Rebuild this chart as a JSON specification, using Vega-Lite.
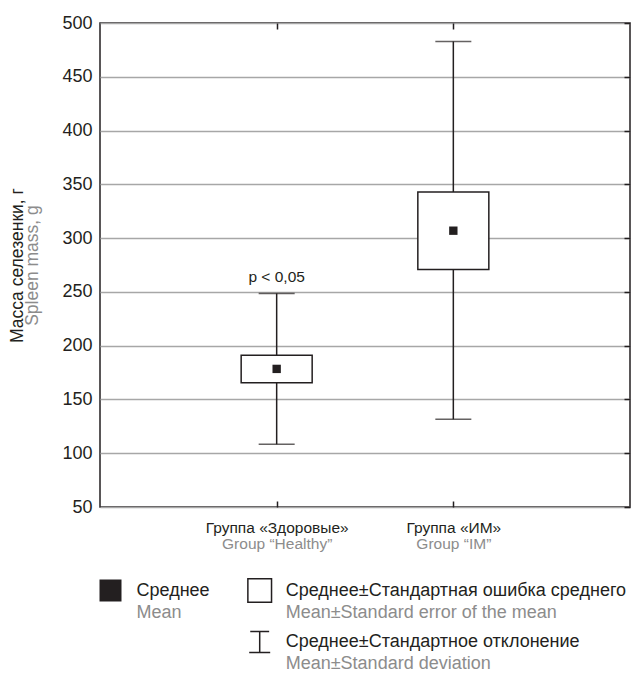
{
  "$schema": "https://vega.github.io/schema/vega-lite/v6.json",
  "padding": {"left": 7, "top": 13, "right": 0, "bottom": 0},
  "background": "white",
  "config": {
    "font": "Liberation Sans",
    "view": {"stroke": "#231f20", "strokeWidth": 1.5},
    "axis": {"labelFont": "Liberation Sans", "titleFont": "Liberation Sans", "titleFontWeight": "normal"}
  },
  "spacing": 17,
  "vconcat": [
    {
      "width": 530,
      "height": 484,
      "data": {
        "values": [
          {"ru": "Группа «Здоровые»", "en": "Group “Healthy”", "mean": 178.4, "se_lo": 165.6, "se_hi": 191.0, "sd_lo": 108.3, "sd_hi": 248.6, "note": "p < 0,05"},
          {"ru": "Группа «ИМ»", "en": "Group “IM”", "mean": 306.9, "se_lo": 270.9, "se_hi": 342.8, "sd_lo": 131.5, "sd_hi": 482.8, "note": ""}
        ]
      },
      "resolve": {"axis": {"x": "independent", "y": "independent"}},
      "layer": [
        {
          "mark": {"type": "rule", "color": "#231f20", "strokeWidth": 1.5},
          "encoding": {
            "x": {"field": "ru", "type": "nominal", "sort": null,
              "scale": {"type": "point", "padding": 1},
              "axis": {"orient": "bottom", "title": null, "labelAngle": 0, "labelFontSize": 15.5, "labelColor": "#231f20",
                "labelPadding": 19.5, "domain": false, "ticks": true, "tickSize": -6, "tickColor": "#231f20", "tickWidth": 1.5, "grid": false}},
            "y": {"field": "sd_lo", "type": "quantitative",
              "scale": {"domain": [50, 500], "nice": false, "zero": false},
              "axis": {"orient": "left", "values": [50, 100, 150, 200, 250, 300, 350, 400, 450, 500],
                "grid": true, "gridColor": "#a7a7a7", "gridWidth": 1.5, "domain": false, "ticks": false,
                "labelFontSize": 18, "labelColor": "#231f20", "labelPadding": 8,
                "title": "Spleen mass, g", "titleColor": "#8c8c8c", "titleFontSize": 17.5, "titlePadding": 20}},
            "y2": {"field": "sd_hi"}
          }
        },
        {
          "mark": {"type": "tick", "color": "#231f20", "thickness": 1.5, "size": 36},
          "encoding": {
            "x": {"field": "ru", "type": "nominal", "sort": null,
              "axis": {"orient": "bottom", "title": null, "labelAngle": 0, "labelFontSize": 15.5, "labelColor": "#8c8c8c",
                "labelExpr": "datum.value == 'Группа «Здоровые»' ? 'Group “Healthy”' : 'Group “IM”'",
                "labelPadding": 29.5, "domain": false, "ticks": false, "grid": false}},
            "y": {"field": "sd_hi", "type": "quantitative",
              "axis": {"orient": "left", "labels": false, "ticks": false, "domain": false, "grid": false,
                "title": "Масса селезенки, г", "titleColor": "#231f20", "titleFontSize": 17.5, "titlePadding": 74}}
          }
        },
        {
          "mark": {"type": "tick", "color": "#231f20", "thickness": 1.5, "size": 36},
          "encoding": {
            "x": {"field": "ru", "type": "nominal", "sort": null, "axis": null},
            "y": {"field": "sd_lo", "type": "quantitative", "axis": null}
          }
        },
        {
          "mark": {"type": "bar", "fill": "white", "stroke": "#231f20", "strokeWidth": 1.5, "width": 71},
          "encoding": {
            "x": {"field": "ru", "type": "nominal", "sort": null,
              "axis": {"orient": "top", "title": null, "labels": false, "domain": false, "grid": false,
                "ticks": true, "tickSize": -6, "tickColor": "#231f20", "tickWidth": 1.5}},
            "y": {"field": "se_lo", "type": "quantitative",
              "axis": {"orient": "right", "title": null, "labels": false, "domain": false, "grid": false,
                "values": [50, 100, 150, 200, 250, 300, 350, 400, 450, 500],
                "ticks": true, "tickSize": -6, "tickColor": "#231f20", "tickWidth": 1.5}},
            "y2": {"field": "se_hi"}
          }
        },
        {
          "mark": {"type": "point", "shape": "square", "filled": true, "color": "#231f20", "size": 70, "opacity": 1},
          "encoding": {
            "x": {"field": "ru", "type": "nominal", "sort": null, "axis": null},
            "y": {"field": "mean", "type": "quantitative", "axis": null}
          }
        },
        {
          "mark": {"type": "text", "color": "#231f20", "fontSize": 15.5, "baseline": "alphabetic", "dy": -11},
          "encoding": {
            "x": {"field": "ru", "type": "nominal", "sort": null, "axis": null},
            "y": {"field": "sd_hi", "type": "quantitative", "axis": null},
            "text": {"field": "note"}
          }
        }
      ]
    },
    {
      "width": 530,
      "height": 92,
      "view": {"stroke": null},
      "data": {
        "values": [
          {"col": 1, "row": 1, "sym": "mean", "ru": "Среднее", "en": "Mean"},
          {"col": 2, "row": 1, "sym": "se", "ru": "Среднее±Стандартная ошибка среднего", "en": "Mean±Standard error of the mean"},
          {"col": 2, "row": 2, "sym": "sd", "ru": "Среднее±Стандартное отклонение", "en": "Mean±Standard deviation"}
        ]
      },
      "layer": [
        {
          "transform": [{"filter": "datum.sym == 'mean'"}],
          "mark": {"type": "point", "shape": "square", "filled": true, "color": "#231f20", "size": 484, "opacity": 1},
          "encoding": {
            "x": {"field": "col", "type": "quantitative", "scale": {"domain": [1, 2], "range": [10.5, 159.7]}, "axis": null},
            "y": {"field": "row", "type": "quantitative", "scale": {"domain": [1, 2], "range": [20.5, 72]}, "axis": null}
          }
        },
        {
          "transform": [{"filter": "datum.sym == 'se'"}],
          "mark": {"type": "point", "shape": "square", "filled": true, "fill": "white", "stroke": "#231f20", "strokeWidth": 1.5, "size": 560, "opacity": 1},
          "encoding": {
            "x": {"field": "col", "type": "quantitative", "axis": null},
            "y": {"field": "row", "type": "quantitative", "axis": null}
          }
        },
        {
          "transform": [{"filter": "datum.sym == 'sd'"}],
          "mark": {"type": "point", "shape": "M-0.9,-1H0.9M0,-1V1M-1,1H1", "filled": false, "stroke": "#231f20", "strokeWidth": 1.5, "size": 441, "opacity": 1},
          "encoding": {
            "x": {"field": "col", "type": "quantitative", "axis": null},
            "y": {"field": "row", "type": "quantitative", "axis": null}
          }
        },
        {
          "mark": {"type": "text", "align": "left", "baseline": "middle", "dx": 26, "fontSize": 18, "color": "#231f20"},
          "encoding": {
            "x": {"field": "col", "type": "quantitative", "axis": null},
            "y": {"field": "row", "type": "quantitative", "axis": null},
            "text": {"field": "ru"}
          }
        },
        {
          "mark": {"type": "text", "align": "left", "baseline": "middle", "dx": 26, "dy": 22, "fontSize": 18, "color": "#8c8c8c"},
          "encoding": {
            "x": {"field": "col", "type": "quantitative", "axis": null},
            "y": {"field": "row", "type": "quantitative", "axis": null},
            "text": {"field": "en"}
          }
        }
      ]
    }
  ]
}
